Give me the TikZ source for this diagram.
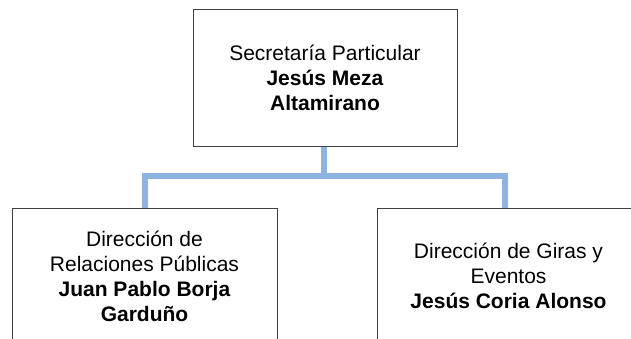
\documentclass[tikz,border=0pt]{standalone}
\usepackage{fontspec}
\setmainfont{Liberation Sans}
\usetikzlibrary{backgrounds}
\definecolor{conn}{HTML}{8DB3E2}
\definecolor{boxline}{HTML}{404040}
\tikzset{
  orgbox/.style={draw=boxline, line width=0.9pt, fill=white, minimum height=136.5pt,
    align=center, inner sep=0pt, font=\fontsize{21}{25}\selectfont},
  link/.style={draw=conn, line width=6pt, line join=miter}
}
\begin{document}
\begin{tikzpicture}[x=1pt,y=-1pt]
\clip (0,0) rectangle (631,339);
\useasboundingbox (0,0) rectangle (631,339);
\node[orgbox, minimum width=264pt] (top) at (325,77.75) {Secretaría Particular\\\textbf{Jesús Meza}\\\textbf{Altamirano}};
\node[orgbox, minimum width=265pt] (left) at (144.5,276.25) {Dirección de\\Relaciones Públicas\\\textbf{Juan Pablo Borja}\\\textbf{Garduño}};
\node[orgbox, minimum width=263pt] (right) at (508.5,276.25) {Dirección de Giras y\\Eventos\\\textbf{Jesús Coria Alonso}};
\coordinate (j) at (323.5,176);
\begin{scope}[on background layer]
\draw[link] ([xshift=-1.5pt]top.south) -- (j) -| (left.north);
\draw[link] (j) -| ([xshift=-3.5pt]right.north);
\end{scope}
\end{tikzpicture}
\end{document}
